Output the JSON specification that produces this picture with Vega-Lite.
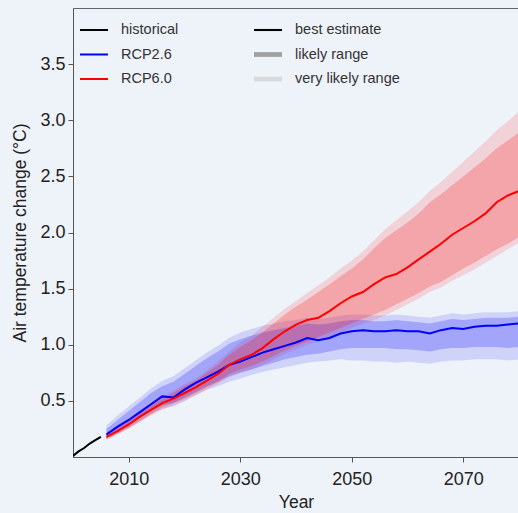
{
  "$schema": "https://vega.github.io/schema/vega-lite/v6.json",
  "width": 446,
  "height": 449,
  "autosize": {"type": "none"},
  "padding": {"left": 73, "top": 8, "right": 0, "bottom": 56},
  "background": "#eef2f9",
  "config": {
    "font": "Liberation Sans",
    "view": {"stroke": "#666", "strokeWidth": 1},
    "axis": {
      "grid": false,
      "domainColor": "#555",
      "tickColor": "#555",
      "tickSize": 5,
      "labelColor": "#222",
      "labelFont": "Liberation Sans",
      "labelFontSize": 18,
      "titleFont": "Liberation Sans",
      "titleFontSize": 17.5,
      "titleFontWeight": "normal",
      "titleColor": "#222"
    },
    "legend": {
      "symbolType": "stroke",
      "symbolSize": 784,
      "symbolStrokeWidth": 2,
      "labelFont": "Liberation Sans",
      "labelFontSize": 14.5,
      "labelColor": "#333",
      "labelOffset": 12,
      "padding": 0,
      "rowPadding": 2.5
    }
  },
  "datasets": {
    "proj": [
      {"year": 2000, "series": "historical", "mean": 0.01},
      {"year": 2001, "series": "historical", "mean": 0.05},
      {"year": 2002, "series": "historical", "mean": 0.08},
      {"year": 2003, "series": "historical", "mean": 0.12},
      {"year": 2004, "series": "historical", "mean": 0.15},
      {"year": 2005, "series": "historical", "mean": 0.18},
      {"year": 2006, "series": "RCP2.6", "mean": 0.20, "lo66": 0.18, "hi66": 0.25, "lo90": 0.16, "hi90": 0.28},
      {"year": 2008, "series": "RCP2.6", "mean": 0.27, "lo66": 0.23, "hi66": 0.33, "lo90": 0.21, "hi90": 0.37},
      {"year": 2010, "series": "RCP2.6", "mean": 0.33, "lo66": 0.29, "hi66": 0.41, "lo90": 0.26, "hi90": 0.45},
      {"year": 2012, "series": "RCP2.6", "mean": 0.40, "lo66": 0.35, "hi66": 0.49, "lo90": 0.32, "hi90": 0.53},
      {"year": 2014, "series": "RCP2.6", "mean": 0.47, "lo66": 0.41, "hi66": 0.57, "lo90": 0.38, "hi90": 0.61},
      {"year": 2016, "series": "RCP2.6", "mean": 0.54, "lo66": 0.46, "hi66": 0.63, "lo90": 0.43, "hi90": 0.68},
      {"year": 2018, "series": "RCP2.6", "mean": 0.53, "lo66": 0.48, "hi66": 0.67, "lo90": 0.45, "hi90": 0.72},
      {"year": 2020, "series": "RCP2.6", "mean": 0.60, "lo66": 0.53, "hi66": 0.74, "lo90": 0.50, "hi90": 0.79},
      {"year": 2022, "series": "RCP2.6", "mean": 0.66, "lo66": 0.58, "hi66": 0.81, "lo90": 0.55, "hi90": 0.86},
      {"year": 2024, "series": "RCP2.6", "mean": 0.71, "lo66": 0.63, "hi66": 0.88, "lo90": 0.60, "hi90": 0.93},
      {"year": 2026, "series": "RCP2.6", "mean": 0.76, "lo66": 0.67, "hi66": 0.94, "lo90": 0.63, "hi90": 0.99},
      {"year": 2028, "series": "RCP2.6", "mean": 0.82, "lo66": 0.72, "hi66": 1.01, "lo90": 0.67, "hi90": 1.06},
      {"year": 2030, "series": "RCP2.6", "mean": 0.85, "lo66": 0.75, "hi66": 1.05, "lo90": 0.70, "hi90": 1.11},
      {"year": 2032, "series": "RCP2.6", "mean": 0.89, "lo66": 0.78, "hi66": 1.08, "lo90": 0.73, "hi90": 1.14},
      {"year": 2034, "series": "RCP2.6", "mean": 0.93, "lo66": 0.81, "hi66": 1.11, "lo90": 0.76, "hi90": 1.17},
      {"year": 2036, "series": "RCP2.6", "mean": 0.96, "lo66": 0.84, "hi66": 1.13, "lo90": 0.78, "hi90": 1.19},
      {"year": 2038, "series": "RCP2.6", "mean": 0.99, "lo66": 0.87, "hi66": 1.15, "lo90": 0.80, "hi90": 1.21},
      {"year": 2040, "series": "RCP2.6", "mean": 1.02, "lo66": 0.89, "hi66": 1.17, "lo90": 0.82, "hi90": 1.22},
      {"year": 2042, "series": "RCP2.6", "mean": 1.06, "lo66": 0.91, "hi66": 1.19, "lo90": 0.84, "hi90": 1.24},
      {"year": 2044, "series": "RCP2.6", "mean": 1.04, "lo66": 0.92, "hi66": 1.18, "lo90": 0.85, "hi90": 1.23},
      {"year": 2046, "series": "RCP2.6", "mean": 1.06, "lo66": 0.94, "hi66": 1.19, "lo90": 0.86, "hi90": 1.24},
      {"year": 2048, "series": "RCP2.6", "mean": 1.10, "lo66": 0.96, "hi66": 1.21, "lo90": 0.87, "hi90": 1.26},
      {"year": 2050, "series": "RCP2.6", "mean": 1.12, "lo66": 0.97, "hi66": 1.22, "lo90": 0.86, "hi90": 1.27},
      {"year": 2052, "series": "RCP2.6", "mean": 1.13, "lo66": 0.97, "hi66": 1.22, "lo90": 0.86, "hi90": 1.27},
      {"year": 2054, "series": "RCP2.6", "mean": 1.12, "lo66": 0.97, "hi66": 1.21, "lo90": 0.85, "hi90": 1.26},
      {"year": 2056, "series": "RCP2.6", "mean": 1.12, "lo66": 0.97, "hi66": 1.21, "lo90": 0.85, "hi90": 1.26},
      {"year": 2058, "series": "RCP2.6", "mean": 1.13, "lo66": 0.96, "hi66": 1.22, "lo90": 0.84, "hi90": 1.27},
      {"year": 2060, "series": "RCP2.6", "mean": 1.12, "lo66": 0.96, "hi66": 1.21, "lo90": 0.85, "hi90": 1.26},
      {"year": 2062, "series": "RCP2.6", "mean": 1.12, "lo66": 0.95, "hi66": 1.20, "lo90": 0.84, "hi90": 1.25},
      {"year": 2064, "series": "RCP2.6", "mean": 1.10, "lo66": 0.94, "hi66": 1.19, "lo90": 0.83, "hi90": 1.24},
      {"year": 2066, "series": "RCP2.6", "mean": 1.13, "lo66": 0.96, "hi66": 1.21, "lo90": 0.85, "hi90": 1.26},
      {"year": 2068, "series": "RCP2.6", "mean": 1.15, "lo66": 0.97, "hi66": 1.23, "lo90": 0.86, "hi90": 1.28},
      {"year": 2070, "series": "RCP2.6", "mean": 1.14, "lo66": 0.97, "hi66": 1.22, "lo90": 0.86, "hi90": 1.27},
      {"year": 2072, "series": "RCP2.6", "mean": 1.16, "lo66": 0.98, "hi66": 1.23, "lo90": 0.87, "hi90": 1.28},
      {"year": 2074, "series": "RCP2.6", "mean": 1.17, "lo66": 0.98, "hi66": 1.24, "lo90": 0.87, "hi90": 1.29},
      {"year": 2076, "series": "RCP2.6", "mean": 1.17, "lo66": 0.98, "hi66": 1.24, "lo90": 0.87, "hi90": 1.29},
      {"year": 2078, "series": "RCP2.6", "mean": 1.18, "lo66": 0.97, "hi66": 1.24, "lo90": 0.86, "hi90": 1.29},
      {"year": 2080, "series": "RCP2.6", "mean": 1.19, "lo66": 0.98, "hi66": 1.25, "lo90": 0.87, "hi90": 1.30},
      {"year": 2006, "series": "RCP6.0", "mean": 0.18, "lo66": 0.16, "hi66": 0.21, "lo90": 0.15, "hi90": 0.22},
      {"year": 2008, "series": "RCP6.0", "mean": 0.23, "lo66": 0.21, "hi66": 0.26, "lo90": 0.20, "hi90": 0.27},
      {"year": 2010, "series": "RCP6.0", "mean": 0.29, "lo66": 0.26, "hi66": 0.33, "lo90": 0.25, "hi90": 0.34},
      {"year": 2012, "series": "RCP6.0", "mean": 0.36, "lo66": 0.32, "hi66": 0.40, "lo90": 0.31, "hi90": 0.41},
      {"year": 2014, "series": "RCP6.0", "mean": 0.42, "lo66": 0.38, "hi66": 0.46, "lo90": 0.37, "hi90": 0.48},
      {"year": 2016, "series": "RCP6.0", "mean": 0.48, "lo66": 0.44, "hi66": 0.52, "lo90": 0.42, "hi90": 0.54},
      {"year": 2018, "series": "RCP6.0", "mean": 0.52, "lo66": 0.48, "hi66": 0.57, "lo90": 0.46, "hi90": 0.59},
      {"year": 2020, "series": "RCP6.0", "mean": 0.57, "lo66": 0.52, "hi66": 0.63, "lo90": 0.50, "hi90": 0.65},
      {"year": 2022, "series": "RCP6.0", "mean": 0.62, "lo66": 0.57, "hi66": 0.68, "lo90": 0.55, "hi90": 0.70},
      {"year": 2024, "series": "RCP6.0", "mean": 0.68, "lo66": 0.62, "hi66": 0.75, "lo90": 0.60, "hi90": 0.77},
      {"year": 2026, "series": "RCP6.0", "mean": 0.74, "lo66": 0.67, "hi66": 0.82, "lo90": 0.65, "hi90": 0.85},
      {"year": 2028, "series": "RCP6.0", "mean": 0.82, "lo66": 0.74, "hi66": 0.91, "lo90": 0.71, "hi90": 0.94},
      {"year": 2030, "series": "RCP6.0", "mean": 0.87, "lo66": 0.78, "hi66": 0.98, "lo90": 0.75, "hi90": 1.02},
      {"year": 2032, "series": "RCP6.0", "mean": 0.91, "lo66": 0.81, "hi66": 1.04, "lo90": 0.78, "hi90": 1.08},
      {"year": 2034, "series": "RCP6.0", "mean": 0.97, "lo66": 0.85, "hi66": 1.11, "lo90": 0.82, "hi90": 1.16},
      {"year": 2036, "series": "RCP6.0", "mean": 1.05, "lo66": 0.90, "hi66": 1.19, "lo90": 0.87, "hi90": 1.24},
      {"year": 2038, "series": "RCP6.0", "mean": 1.12, "lo66": 0.95, "hi66": 1.27, "lo90": 0.92, "hi90": 1.32},
      {"year": 2040, "series": "RCP6.0", "mean": 1.18, "lo66": 0.99, "hi66": 1.34, "lo90": 0.96, "hi90": 1.39},
      {"year": 2042, "series": "RCP6.0", "mean": 1.22, "lo66": 1.03, "hi66": 1.40, "lo90": 1.00, "hi90": 1.46},
      {"year": 2044, "series": "RCP6.0", "mean": 1.24, "lo66": 1.07, "hi66": 1.47, "lo90": 1.03, "hi90": 1.53},
      {"year": 2046, "series": "RCP6.0", "mean": 1.30, "lo66": 1.11, "hi66": 1.54, "lo90": 1.07, "hi90": 1.60},
      {"year": 2048, "series": "RCP6.0", "mean": 1.37, "lo66": 1.15, "hi66": 1.61, "lo90": 1.11, "hi90": 1.68},
      {"year": 2050, "series": "RCP6.0", "mean": 1.43, "lo66": 1.19, "hi66": 1.68, "lo90": 1.15, "hi90": 1.75},
      {"year": 2052, "series": "RCP6.0", "mean": 1.47, "lo66": 1.23, "hi66": 1.76, "lo90": 1.19, "hi90": 1.83},
      {"year": 2054, "series": "RCP6.0", "mean": 1.54, "lo66": 1.27, "hi66": 1.86, "lo90": 1.22, "hi90": 1.93},
      {"year": 2056, "series": "RCP6.0", "mean": 1.60, "lo66": 1.31, "hi66": 1.95, "lo90": 1.26, "hi90": 2.03},
      {"year": 2058, "series": "RCP6.0", "mean": 1.63, "lo66": 1.36, "hi66": 2.02, "lo90": 1.31, "hi90": 2.11},
      {"year": 2060, "series": "RCP6.0", "mean": 1.69, "lo66": 1.41, "hi66": 2.09, "lo90": 1.36, "hi90": 2.19},
      {"year": 2062, "series": "RCP6.0", "mean": 1.76, "lo66": 1.46, "hi66": 2.17, "lo90": 1.41, "hi90": 2.27},
      {"year": 2064, "series": "RCP6.0", "mean": 1.83, "lo66": 1.52, "hi66": 2.27, "lo90": 1.47, "hi90": 2.37},
      {"year": 2066, "series": "RCP6.0", "mean": 1.90, "lo66": 1.56, "hi66": 2.34, "lo90": 1.51, "hi90": 2.45},
      {"year": 2068, "series": "RCP6.0", "mean": 1.98, "lo66": 1.62, "hi66": 2.42, "lo90": 1.57, "hi90": 2.54},
      {"year": 2070, "series": "RCP6.0", "mean": 2.04, "lo66": 1.68, "hi66": 2.50, "lo90": 1.62, "hi90": 2.63},
      {"year": 2072, "series": "RCP6.0", "mean": 2.10, "lo66": 1.73, "hi66": 2.58, "lo90": 1.67, "hi90": 2.72},
      {"year": 2074, "series": "RCP6.0", "mean": 2.17, "lo66": 1.79, "hi66": 2.66, "lo90": 1.73, "hi90": 2.81},
      {"year": 2076, "series": "RCP6.0", "mean": 2.27, "lo66": 1.85, "hi66": 2.75, "lo90": 1.79, "hi90": 2.91},
      {"year": 2078, "series": "RCP6.0", "mean": 2.33, "lo66": 1.90, "hi66": 2.82, "lo90": 1.85, "hi90": 2.99},
      {"year": 2080, "series": "RCP6.0", "mean": 2.37, "lo66": 1.96, "hi66": 2.89, "lo90": 1.91, "hi90": 3.08}
    ],
    "bands": [
      {"band": "best estimate"},
      {"band": "likely range"},
      {"band": "very likely range"}
    ]
  },
  "encoding": {
    "x": {
      "field": "year",
      "type": "quantitative",
      "scale": {"domain": [2000, 2080], "nice": false, "zero": false},
      "axis": {"values": [2010, 2030, 2050, 2070], "format": "d", "title": "Year", "labelPadding": 8, "titlePadding": 5}
    },
    "y": {
      "field": "mean",
      "type": "quantitative",
      "scale": {"domain": [0, 4], "nice": false},
      "axis": {"values": [0.5, 1, 1.5, 2, 2.5, 3, 3.5], "format": ".1f", "title": "Air temperature change (°C)", "labelPadding": 3, "titlePadding": 10}
    }
  },
  "layer": [
    {
      "data": {"name": "proj"},
      "transform": [{"filter": "datum.series != 'historical'"}],
      "mark": {"type": "area", "opacity": 0.13, "clip": true},
      "encoding": {
        "y": {"field": "lo90", "type": "quantitative"},
        "y2": {"field": "hi90"},
        "fill": {"field": "series", "type": "nominal", "scale": {"domain": ["RCP2.6", "RCP6.0"], "range": ["#0000ff", "#ff0000"]}, "legend": null}
      }
    },
    {
      "data": {"name": "proj"},
      "transform": [{"filter": "datum.series != 'historical'"}],
      "mark": {"type": "area", "opacity": 0.21, "clip": true},
      "encoding": {
        "y": {"field": "lo66", "type": "quantitative"},
        "y2": {"field": "hi66"},
        "fill": {"field": "series", "type": "nominal", "legend": null}
      }
    },
    {
      "data": {"name": "proj"},
      "mark": {"type": "line", "strokeWidth": 2, "clip": true},
      "encoding": {
        "stroke": {
          "field": "series",
          "type": "nominal",
          "scale": {"domain": ["historical", "RCP2.6", "RCP6.0"], "range": ["#000000", "#0000ff", "#ff0000"]},
          "legend": {"orient": "none", "legendX": 6, "legendY": 7, "title": null}
        }
      }
    },
    {
      "data": {"name": "bands"},
      "transform": [{"filter": "false"}],
      "mark": {"type": "point", "filled": true, "opacity": 1},
      "encoding": {
        "color": {
          "field": "band",
          "type": "nominal",
          "scale": {"domain": ["best estimate", "likely range", "very likely range"], "range": ["#000000", "#a0a0a0", "#d9d9d9"]},
          "legend": {"orient": "none", "legendX": 180, "legendY": 7, "title": null}
        },
        "shape": {
          "field": "band",
          "type": "nominal",
          "scale": {"domain": ["best estimate", "likely range", "very likely range"], "range": ["M-1,-0.075H1V0.075H-1Z", "M-1,-0.17H1V0.17H-1Z", "M-1,-0.17H1V0.17H-1Z"]},
          "legend": {"orient": "none", "legendX": 180, "legendY": 7, "title": null}
        }
      }
    }
  ]
}
